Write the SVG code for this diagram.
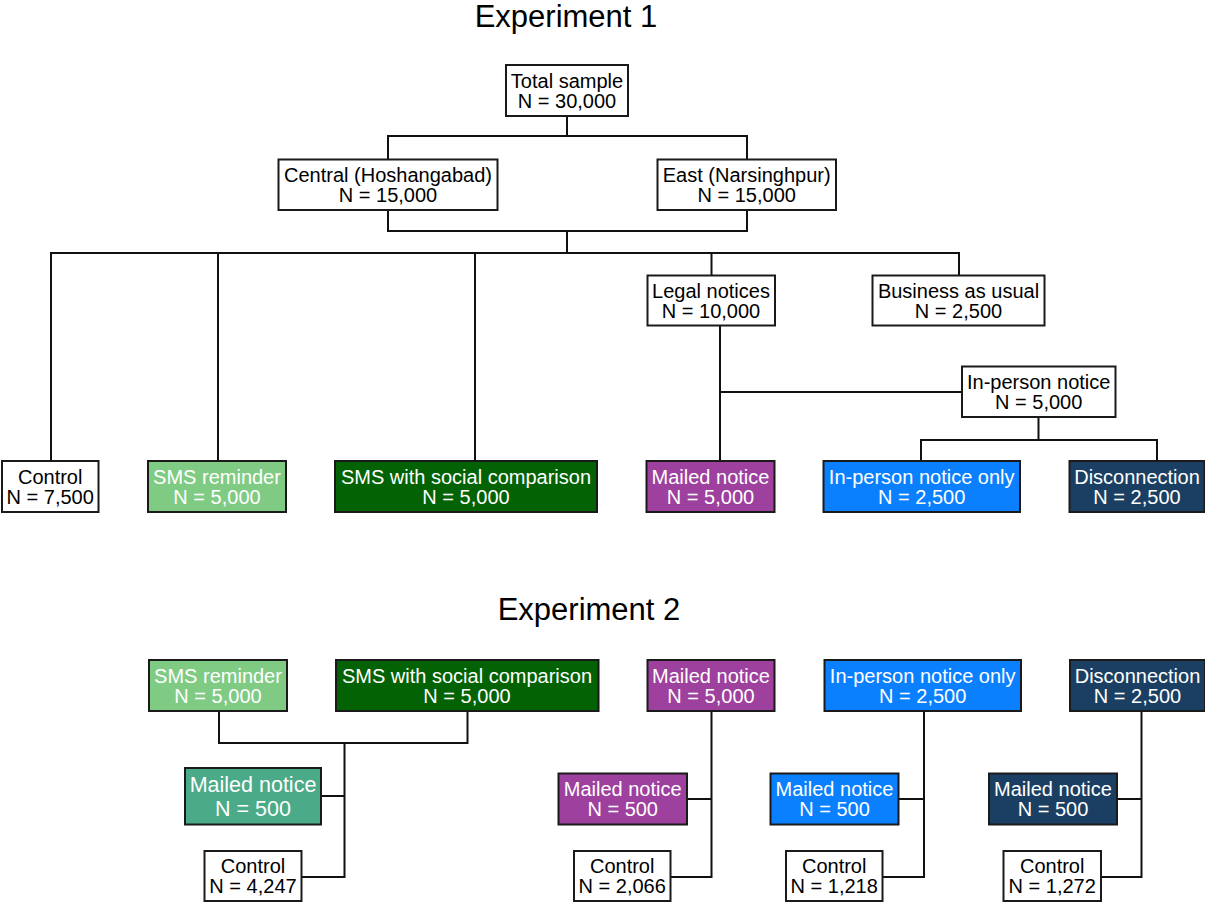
<svg xmlns="http://www.w3.org/2000/svg" width="1205" height="905" viewBox="0 0 1205 905">
<style>
  .box { stroke: #1a1a1a; stroke-width: 2; }
  .w { fill: #ffffff; }
  .lg { fill: #80cb84; }
  .dg { fill: #036203; }
  .pu { fill: #9e409e; }
  .bl { fill: #0a80ff; }
  .nv { fill: #1b3f62; }
  .tl { fill: #4baa88; }
  text { font-family: "Liberation Sans", Arial, sans-serif; font-size: 20px; text-anchor: middle; }
  .dk { fill: #000000; }
  .lt { fill: #ffffff; }
  .title { font-size: 31px; fill: #000000; }
  .conn path { fill: none; stroke: #111111; stroke-width: 2; }
</style>

<text class="title" x="566" y="27">Experiment 1</text>
<text class="title" x="589" y="620">Experiment 2</text>

<g class="conn" id="connectors">
  <path d="M567 116 V136"/>
  <path d="M388 159 V136 H747 V159"/>
  <path d="M388 210 V231 H747 V210"/>
  <path d="M567 231 V253"/>
  <path d="M51 461 V253 H959 V275"/>
  <path d="M218 253 V461"/>
  <path d="M475 253 V461"/>
  <path d="M711.5 253 V275"/>
  <path d="M720 326 V461"/>
  <path d="M720 392 H962"/>
  <path d="M1038.5 417 V440"/>
  <path d="M921 461 V440 H1157 V461"/>
  <path d="M219 711 V743 H467.5 V711"/>
  <path d="M344.5 743 V877 H302"/>
  <path d="M321 796 H344.5"/>
  <path d="M711.5 711 V877 H671"/>
  <path d="M687 799 H711.5"/>
  <path d="M924 711 V877 H883"/>
  <path d="M898.5 799 H924"/>
  <path d="M1141.5 711 V877 H1101"/>
  <path d="M1117 799 H1141.5"/>
</g>

<g id="total">
  <rect class="box w" x="506" y="65" width="122" height="51"/>
  <text class="dk" x="567" y="87.5">Total sample</text>
  <text class="dk" x="567" y="108">N = 30,000</text>
</g>
<g id="central">
  <rect class="box w" x="278.5" y="159.5" width="219" height="50.5"/>
  <text class="dk" x="388" y="182">Central (Hoshangabad)</text>
  <text class="dk" x="388" y="202">N = 15,000</text>
</g>
<g id="east">
  <rect class="box w" x="657.5" y="159.5" width="178.5" height="50.5"/>
  <text class="dk" x="746.7" y="182">East (Narsinghpur)</text>
  <text class="dk" x="746.7" y="202">N = 15,000</text>
</g>
<g id="legal">
  <rect class="box w" x="647.5" y="275.5" width="127.5" height="50"/>
  <text class="dk" x="711" y="297.5">Legal notices</text>
  <text class="dk" x="711" y="317.5">N = 10,000</text>
</g>
<g id="bau">
  <rect class="box w" x="872.5" y="275.5" width="172" height="50"/>
  <text class="dk" x="958.5" y="297.5">Business as usual</text>
  <text class="dk" x="958.5" y="317.5">N = 2,500</text>
</g>
<g id="inperson">
  <rect class="box w" x="962" y="366.5" width="153.5" height="50.5"/>
  <text class="dk" x="1038.7" y="388.5">In-person notice</text>
  <text class="dk" x="1038.7" y="408.5">N = 5,000</text>
</g>

<g id="control1">
  <rect class="box w" x="2" y="461" width="96.5" height="51"/>
  <text class="dk" x="50.2" y="483.5">Control</text>
  <text class="dk" x="50.2" y="503.5">N = 7,500</text>
</g>
<g id="smsrem1">
  <rect class="box lg" x="148" y="461" width="138" height="51"/>
  <text class="lt" x="217" y="483.5">SMS reminder</text>
  <text class="lt" x="217" y="503.5">N = 5,000</text>
</g>
<g id="smssoc1">
  <rect class="box dg" x="335" y="461" width="262" height="51"/>
  <text class="lt" x="466" y="483.5">SMS with social comparison</text>
  <text class="lt" x="466" y="503.5">N = 5,000</text>
</g>
<g id="mailed1">
  <rect class="box pu" x="646.5" y="461" width="128" height="51"/>
  <text class="lt" x="710.5" y="483.5">Mailed notice</text>
  <text class="lt" x="710.5" y="503.5">N = 5,000</text>
</g>
<g id="inpersononly1">
  <rect class="box bl" x="823.5" y="461" width="196.5" height="51"/>
  <text class="lt" x="921.7" y="483.5">In-person notice only</text>
  <text class="lt" x="921.7" y="503.5">N = 2,500</text>
</g>
<g id="disconn1">
  <rect class="box nv" x="1069.5" y="461" width="135" height="51"/>
  <text class="lt" x="1137" y="483.5">Disconnection</text>
  <text class="lt" x="1137" y="503.5">N = 2,500</text>
</g>

<g id="smsrem2">
  <rect class="box lg" x="149" y="660" width="138" height="51"/>
  <text class="lt" x="218" y="682.5">SMS reminder</text>
  <text class="lt" x="218" y="702.5">N = 5,000</text>
</g>
<g id="smssoc2">
  <rect class="box dg" x="336" y="660" width="262.5" height="51"/>
  <text class="lt" x="467" y="682.5">SMS with social comparison</text>
  <text class="lt" x="467" y="702.5">N = 5,000</text>
</g>
<g id="mailed2">
  <rect class="box pu" x="647.5" y="660" width="127" height="51"/>
  <text class="lt" x="711" y="682.5">Mailed notice</text>
  <text class="lt" x="711" y="702.5">N = 5,000</text>
</g>
<g id="inpersononly2">
  <rect class="box bl" x="824.5" y="660" width="196.5" height="51"/>
  <text class="lt" x="922.7" y="682.5">In-person notice only</text>
  <text class="lt" x="922.7" y="702.5">N = 2,500</text>
</g>
<g id="disconn2">
  <rect class="box nv" x="1070" y="660" width="135" height="51"/>
  <text class="lt" x="1137.5" y="682.5">Disconnection</text>
  <text class="lt" x="1137.5" y="702.5">N = 2,500</text>
</g>

<g id="mailed_sms">
  <rect class="box tl" x="185" y="768" width="136" height="56.5"/>
  <text class="lt" x="253" y="791.7" style="font-size:21.5px">Mailed notice</text>
  <text class="lt" x="253" y="815.7" style="font-size:21.5px">N = 500</text>
</g>
<g id="control_sms">
  <rect class="box w" x="204.5" y="851" width="97" height="50"/>
  <text class="dk" x="253" y="872.7">Control</text>
  <text class="dk" x="253" y="892.7">N = 4,247</text>
</g>
<g id="mailed_mailed">
  <rect class="box pu" x="558.5" y="773.5" width="128.5" height="51"/>
  <text class="lt" x="622.7" y="796">Mailed notice</text>
  <text class="lt" x="622.7" y="816">N = 500</text>
</g>
<g id="control_mailed">
  <rect class="box w" x="574" y="851" width="96.5" height="50"/>
  <text class="dk" x="622.2" y="872.7">Control</text>
  <text class="dk" x="622.2" y="892.7">N = 2,066</text>
</g>
<g id="mailed_inperson">
  <rect class="box bl" x="770.5" y="773.5" width="128" height="51"/>
  <text class="lt" x="834.5" y="796">Mailed notice</text>
  <text class="lt" x="834.5" y="816">N = 500</text>
</g>
<g id="control_inperson">
  <rect class="box w" x="786" y="851" width="96.5" height="50"/>
  <text class="dk" x="834.2" y="872.7">Control</text>
  <text class="dk" x="834.2" y="892.7">N = 1,218</text>
</g>
<g id="mailed_disconn">
  <rect class="box nv" x="989" y="773.5" width="128" height="51"/>
  <text class="lt" x="1053" y="796">Mailed notice</text>
  <text class="lt" x="1053" y="816">N = 500</text>
</g>
<g id="control_disconn">
  <rect class="box w" x="1003.5" y="851" width="97.5" height="50"/>
  <text class="dk" x="1052.2" y="872.7">Control</text>
  <text class="dk" x="1052.2" y="892.7">N = 1,272</text>
</g>
</svg>
